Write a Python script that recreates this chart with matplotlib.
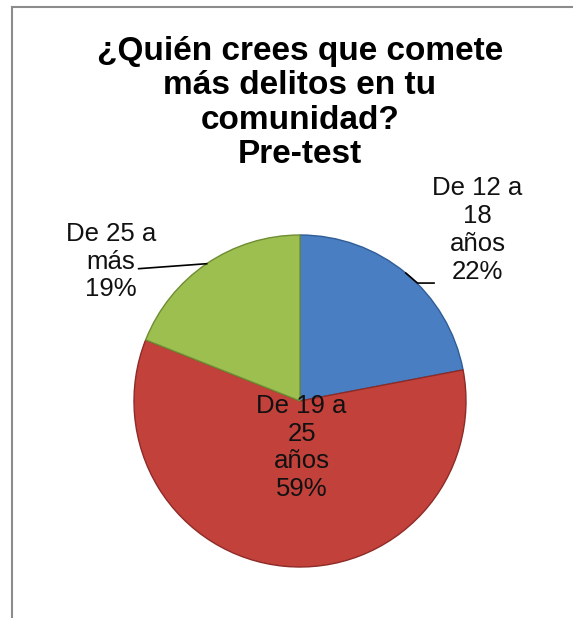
import numpy as np
import matplotlib
matplotlib.use("Agg")
from matplotlib import pyplot as plt
from matplotlib.lines import Line2D

plt.rcParams['font.family'] = ['Liberation Sans', 'DejaVu Sans']

title = '¿Quién crees que comete\nmás delitos en tu\ncomunidad?\nPre-test'
categories = ['De 12 a\n18\naños', 'De 19 a\n25\naños', 'De 25 a\nmás']
values = [22, 59, 19]
colors = ['#4a7ec2', '#c2413b', '#9cbf50']
edges = ['#2f5d96', '#8e2b27', '#6f8d33']

# label placement in pie-radius units
label_pos = [(1.07, 1.03), (0.01, -0.28), (-1.14, 0.84)]
leader = [True, False, True]

W, H = 573, 618
cx, cy, R = 300, 401, 166

fig = plt.figure(figsize=(W / 100, H / 100), dpi=100)
ax = fig.add_axes([0, 0, 1, 1])

wedges, _ = ax.pie(values, colors=colors, startangle=90, counterclock=False,
                   radius=1.0, wedgeprops=dict(linewidth=1.0))
for w, ec in zip(wedges, edges):
    w.set_edgecolor(ec)

ax.set_xlim(-cx / R, (W - cx) / R)
ax.set_ylim(-(H - cy) / R, cy / R)
ax.set_aspect('equal')
ax.axis('off')

total = sum(values)
for w, cat, v, (lx, ly), ld in zip(wedges, categories, values, label_pos, leader):
    ang = np.deg2rad((w.theta1 + w.theta2) / 2)
    ax.text(lx, ly, f'{cat}\n{round(100 * v / total)}%', ha='center', va='center',
            fontsize=18.5, linespacing=1.2, color='#111111')
    if ld:
        x0, y0 = np.cos(ang), np.sin(ang)
        if lx > 0:
            xs = [x0, x0 + 0.07, x0 + 0.17]
            ys = [y0, y0 - 0.06, y0 - 0.06]
        else:
            xs = [x0, x0 - 0.41]
            ys = [y0, y0 - 0.03]
        ax.plot(xs, ys, color='black', lw=1.2)

fig.text(300 / W, 1 - 103 / H, title, ha='center', va='center', fontsize=24,
         fontweight='bold', linespacing=1.15)

# chart frame (left and top edges visible)
fig.add_artist(Line2D([12 / W, 12 / W], [0, 1 - 7 / H], color='#8c8c8c', lw=1.5))
fig.add_artist(Line2D([12 / W, 1], [1 - 7 / H, 1 - 7 / H], color='#8c8c8c', lw=1.5))

fig.savefig('out.png', dpi=100)
